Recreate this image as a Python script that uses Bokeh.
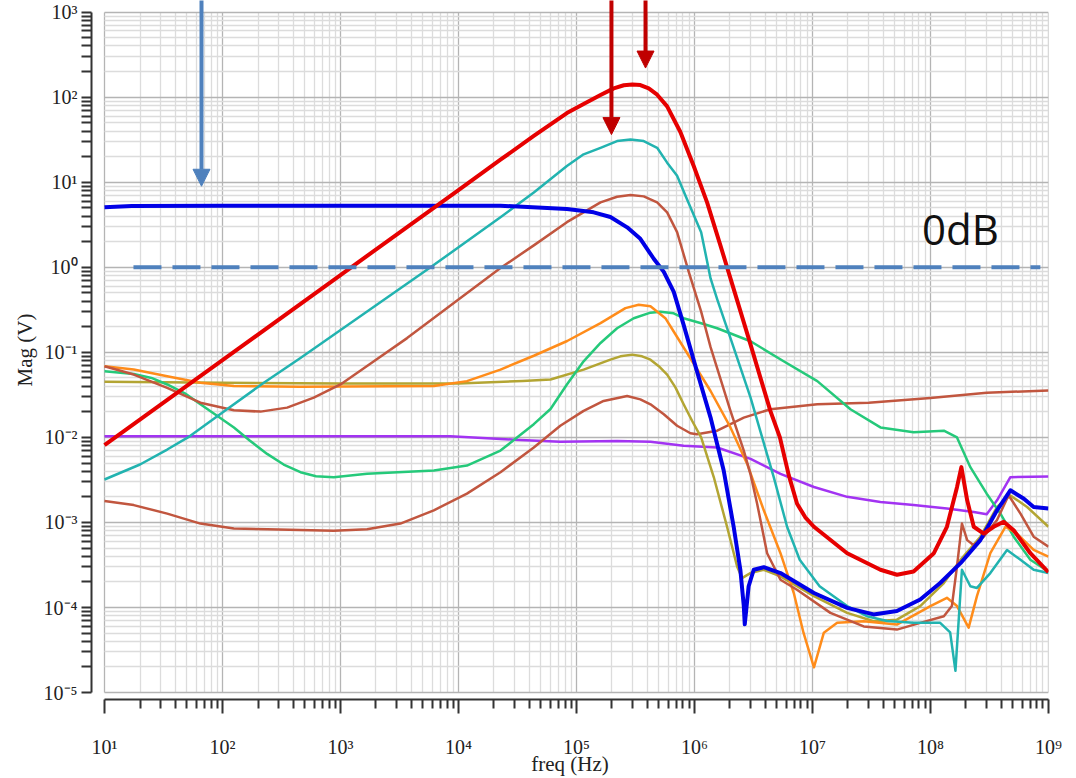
from bokeh.plotting import figure
from bokeh.models import (Range1d, FixedTicker, CustomJSTickFormatter, Arrow,
                          NormalHead, Label)
from bokeh.embed import file_html
from bokeh.resources import INLINE

# ---------------- data ----------------
x_tick_exps = [1, 2, 3, 4, 5, 6, 7, 8, 9]
x_tick_labels = ["10¹", "10²", "10³", "10⁴", "10⁵", "10⁶", "10⁷", "10⁸", "10⁹"]
y_tick_exps = [-5, -4, -3, -2, -1, 0, 1, 2, 3]
y_tick_labels = ["10⁻⁵", "10⁻⁴", "10⁻³", "10⁻²", "10⁻¹", "10⁰", "10¹", "10²", "10³"]
x_title = "freq (Hz)"
y_title = "Mag (V)"

freq_red = [10, 100, 1e3, 1e4, 2.27e4, 4.35e4, 8.3e4, 1.15e5, 1.6e5, 2.07e5, 2.52e5, 2.98e5,
            3.48e5, 4.1e5, 4.83e5, 5.87e5, 7.6e5, 9.86e5, 1.28e6, 1.66e6, 2.02e6, 2.99e6,
            4.4e6, 5.3e6, 6.3e6, 7.41e6, 8.7e6, 1.03e7, 1.97e7, 3.77e7, 5.21e7, 7.2e7,
            1.07e8, 1.38e8, 1.68e8, 1.83e8, 2.05e8, 2.33e8, 2.83e8, 3.44e8, 4.18e8, 5.08e8,
            7.03e8, 1e9]
mag_red = [8.1e-3, 0.081, 0.81, 8.1, 18.4, 35, 65, 83, 106, 127, 138, 141,
           139, 127, 107, 78, 39, 15.5, 5.8, 1.81, 0.74, 0.123,
           0.0205, 0.01, 3.6e-3, 1.66e-3, 1.15e-3, 8.9e-4, 4.35e-4, 2.78e-4, 2.43e-4, 2.65e-4,
           4.35e-4, 8.9e-4, 2.6e-3, 4.47e-3, 1.82e-3, 8.9e-4, 7.4e-4, 8.9e-4, 1.02e-3, 8.1e-4,
           4.35e-4, 2.6e-4]

freq_cyan = [10, 20, 34, 52.7, 100, 224, 458, 5.8e3, 2.27e4, 4.35e4, 8.3e4, 1.15e5, 1.6e5, 2.21e5,
             2.87e5, 3.72e5, 4.83e5, 5.87e5, 7.13e5, 8.65e5, 1.14e6, 1.37e6, 1.56e6, 2.02e6,
             2.99e6, 4.7e6, 6.1e6, 7.8e6, 1.15e7, 1.97e7, 2.9e7, 4.3e7, 7.2e7, 1.21e8, 1.47e8,
             1.63e8, 1.85e8, 2.18e8, 2.48e8, 3.22e8, 4.46e8, 5.8e8, 7.5e8, 1e9]
mag_cyan = [3.2e-3, 4.8e-3, 7.2e-3, 0.0103, 0.0196, 0.0439, 0.0859, 1.0, 3.87, 7.59, 15.5, 21.3,
            25.4, 30.5, 31.8, 30.5, 25.4, 17, 11.9, 6.3, 2.59, 0.74, 0.42, 0.147,
            0.0293, 3.41e-3, 8.9e-4, 3.64e-4, 1.78e-4, 1.04e-4, 7.9e-5, 6.95e-5, 6.6e-5, 6.6e-5,
            5.1e-5, 1.8e-5, 2.78e-4, 1.78e-4, 1.7e-4, 2.54e-4, 4.75e-4, 3.64e-4, 2.78e-4, 2.54e-4]

freq_brown_hi = [10, 17.7, 34, 65, 125, 210, 353, 594, 1e3, 1.92e3, 3.67e3, 2.27e4, 4.35e4,
                 8.3e4, 1.6e5, 2.21e5, 2.87e5, 3.72e5, 4.83e5, 5.87e5, 7.13e5, 8.95e5, 1.14e6,
                 1.37e6, 2.02e6, 2.62e6, 2.98e6, 3.4e6, 4.13e6, 5.36e6, 7.4e6, 1.42e7, 2.72e7,
                 5.2e7, 8.2e7, 1.3e8, 1.52e8, 1.68e8, 1.85e8, 2.05e8, 2.33e8, 2.83e8, 3.67e8,
                 4.6e8, 5.8e8, 7.5e8, 1e9]
mag_brown_hi = [0.0687, 0.0548, 0.0383, 0.0256, 0.0209, 0.0201, 0.0224, 0.0293, 0.0419, 0.0785,
                0.147, 0.98, 1.81, 3.39, 5.8, 6.76, 7.06, 6.82, 5.8, 4.43, 2.59, 0.883, 0.301,
                0.115, 0.0205, 7.0e-3, 3.73e-3, 1.66e-3, 4.35e-4, 2.12e-4, 1.62e-4, 8.65e-5,
                6.0e-5, 5.5e-5, 6.6e-5, 7.9e-5, 1.04e-4, 3.04e-4, 9.7e-4, 6.2e-4, 5.4e-4, 6.8e-4,
                1.07e-3, 2.09e-3, 1.27e-3, 6.8e-4, 5.2e-4]

freq_blue = [10, 17, 100, 1e3, 1e4, 2.27e4, 8.3e4, 1.4e5, 1.94e5, 2.69e5, 3.48e5, 4.52e5,
             5.5e5, 6.68e5, 8.1e5, 1.05e6, 1.37e6, 1.77e6, 2.15e6, 2.45e6, 2.62e6, 2.67e6,
             2.88e6, 3.18e6, 3.87e6, 5.36e6, 1.03e7, 1.97e7, 3.3e7, 5.2e7, 8.2e7, 1.21e8,
             1.8e8, 2.65e8, 3.67e8, 4.76e8, 6.2e8, 7.5e8, 1e9]
mag_blue = [5.08, 5.25, 5.3, 5.3, 5.3, 5.3, 4.84, 4.43, 3.9, 2.95, 2.16, 1.26,
            0.883, 0.515, 0.21, 0.060, 0.0171, 4.08e-3, 8.9e-4, 2.78e-4, 1.04e-4, 6.34e-5,
            1.78e-4, 2.78e-4, 2.98e-4, 2.54e-4, 1.48e-4, 9.9e-5, 8.3e-5, 9.1e-5, 1.24e-4, 1.94e-4,
            3.32e-4, 6.2e-4, 1.39e-3, 2.39e-3, 1.9e-3, 1.52e-3, 1.46e-3]

freq_orange = [10, 17.7, 34, 65, 125, 458, 6.2e3, 1.18e4, 2.27e4, 4.35e4, 8.34e4, 1.6e5, 2.6e5,
               3.37e5, 4.24e5, 5.67e5, 6.67e5, 9.2e5, 1.37e6, 2.02e6, 2.8e6,
               3.87e6, 5.36e6, 6.95e6, 8.4e6, 1.03e7, 1.25e7, 1.62e7, 2.72e7, 5.2e7, 1e8,
               1.38e8, 1.68e8, 2.11e8, 2.48e8, 3.22e8, 4.32e8, 5.4e8, 7.5e8, 1e9]
mag_orange = [0.0687, 0.0627, 0.0525, 0.0439, 0.0401, 0.0394, 0.0401, 0.0459, 0.0627, 0.0912,
              0.136, 0.221, 0.331, 0.363, 0.348, 0.252, 0.176, 0.0859, 0.0351,
              0.0131, 4.88e-3, 1.39e-3, 4.35e-4, 1.48e-4, 5.06e-5, 1.98e-5, 5.06e-5, 6.6e-5,
              6.9e-5, 6.3e-5, 1.04e-4, 1.3e-4, 1.04e-4, 5.8e-5, 1.36e-4, 4.35e-4, 8.9e-4,
              7.4e-4, 4.75e-4, 3.97e-4]

freq_olive = [10, 100, 1e3, 1e4, 3.5e4, 6.03e4, 1.15e5, 1.94e5, 2.36e5, 2.97e5, 3.6e5, 4.24e5,
              4.99e5, 5.87e5, 6.9e5, 8.1e5, 9.55e5, 1.14e6, 1.46e6, 1.89e6, 2.3e6, 2.53e6,
              2.98e6, 3.87e6, 5.36e6, 1.03e7, 1.97e7, 3.3e7, 5.2e7, 8.2e7, 1.3e8, 1.8e8,
              2.65e8, 3.67e8, 4.76e8, 6.6e8, 1e9]
mag_olive = [0.045, 0.044, 0.043, 0.043, 0.046, 0.048, 0.0627, 0.082, 0.0898, 0.094, 0.0898,
             0.082, 0.0687, 0.0548, 0.0387, 0.0245, 0.0157, 0.01, 3.4e-3, 8.9e-4, 3.03e-4,
             2.22e-4, 2.54e-4, 2.78e-4, 2.32e-4, 1.36e-4, 8.65e-5, 6.9e-5, 7.2e-5, 1.04e-4,
             1.94e-4, 3.64e-4, 6.8e-4, 1.52e-3, 2.08e-3, 1.52e-3, 8.9e-4]

freq_green = [10, 17.7, 25, 34, 48, 65, 90, 125, 170, 239, 330, 458, 620, 877, 1.68e3, 6.2e3,
              1.18e4, 2.27e4, 4.35e4, 6.03e4, 8.3e4, 1.15e5, 1.6e5, 2.21e5, 3.06e5, 4.24e5,
              5.15e5, 6.67e5, 8.1e5, 1.14e6, 1.56e6, 2.99e6, 5.7e6, 1.1e7, 2.1e7, 3.77e7, 7.2e7,
              1.3e8, 1.68e8, 2.18e8, 3.0e8, 3.92e8, 5.08e8, 7.03e8, 1e9]
mag_green = [0.060, 0.0558, 0.050, 0.0419, 0.033, 0.0245, 0.018, 0.0131, 9.2e-3, 6.4e-3, 4.8e-3,
             3.9e-3, 3.5e-3, 3.41e-3, 3.73e-3, 4.08e-3, 4.67e-3, 7.0e-3, 0.0143, 0.0216, 0.0419,
             0.0785, 0.129, 0.192, 0.252, 0.293, 0.301, 0.288, 0.252, 0.22, 0.192, 0.135, 0.0785,
             0.0459, 0.0214, 0.0131, 0.0115, 0.012, 0.01, 4.47e-3, 2.18e-3, 1.27e-3, 6.8e-4,
             3.64e-4, 2.65e-4]

freq_purple = [10, 100, 1e3, 8.55e3, 3e4, 7.3e4, 2.21e5, 4.24e5, 8.1e5, 1.56e6, 2.99e6, 5.36e6,
               1.03e7, 1.97e7, 3.77e7, 7.2e7, 1.38e8, 2.33e8, 3.0e8, 3.67e8, 4.76e8, 1e9]
mag_purple = [0.0103, 0.0103, 0.0103, 0.0103, 9.4e-3, 8.9e-3, 9.1e-3, 8.9e-3, 8.0e-3, 7.6e-3,
              5.6e-3, 3.73e-3, 2.61e-3, 2.0e-3, 1.74e-3, 1.6e-3, 1.46e-3, 1.33e-3, 1.25e-3,
              1.82e-3, 3.41e-3, 3.47e-3]

freq_brown_lo = [10, 17.7, 34, 65, 125, 239, 877, 1.68e3, 3.22e3, 6.18e3, 1.18e4, 2.27e4, 4.35e4,
                 7.3e4, 1.15e5, 1.7e5, 2.69e5, 3.48e5, 4.24e5, 5.5e5, 7.13e5, 9.25e5, 1.05e6,
                 1.56e6, 2.62e6, 4.4e6, 1.1e7, 3e7, 1e8, 3e8, 1e9]
mag_brown_lo = [1.79e-3, 1.6e-3, 1.27e-3, 9.7e-4, 8.5e-4, 8.3e-4, 8.0e-4, 8.3e-4, 9.7e-4, 1.39e-3,
                2.18e-3, 3.9e-3, 7.6e-3, 0.0137, 0.0205, 0.0268, 0.0307, 0.028, 0.0245, 0.0187,
                0.0137, 0.0112, 0.0109, 0.012, 0.0171, 0.0214, 0.0245, 0.0256, 0.029, 0.0336,
                0.0355]

# 0 dB reference line
ref_freq = [17.6, 8.55e8]
ref_mag = [1.0, 1.0]

# annotation arrows: frequency, tip magnitude
arrow_freqs = [66.4, 1.98e5, 3.85e5]
arrow_tips = [8.97, 36.3, 220.0]
arrow_colors = ["#4f81bd", "#c00000", "#c00000"]
label_text = "0dB"
label_freq = 8.5e7
label_mag = 2.85

# ---------------- figure ----------------
p = figure(width=1076, height=778, x_axis_type="log", y_axis_type="log",
           x_range=Range1d(7.76, 1.002e9), y_range=Range1d(8.29e-6, 1370),
           output_backend="svg", toolbar_location=None,
           min_border_left=91, min_border_top=0, min_border_right=28, min_border_bottom=74)
p.outline_line_color = None
p.background_fill_color = "white"
p.border_fill_color = "white"

xt = FixedTicker(ticks=[10.0 ** e for e in x_tick_exps],
                 minor_ticks=[m * 10.0 ** e for e in x_tick_exps[:-1] for m in range(2, 10)])
yt = FixedTicker(ticks=[10.0 ** e for e in y_tick_exps],
                 minor_ticks=[m * 10.0 ** e for e in y_tick_exps[:-1] for m in range(2, 10)])
p.xaxis.ticker = xt
p.yaxis.ticker = yt
fmt_code = """
const e = Math.round(Math.log10(tick));
const i = exps.indexOf(e);
return i >= 0 ? labels[i] : "";
"""
p.xaxis.formatter = CustomJSTickFormatter(args=dict(exps=x_tick_exps, labels=x_tick_labels), code=fmt_code)
p.yaxis.formatter = CustomJSTickFormatter(args=dict(exps=y_tick_exps, labels=y_tick_labels), code=fmt_code)
p.xaxis.bounds = (10, 1e9)
p.yaxis.bounds = (1e-5, 1e3)

for ax in (p.xaxis, p.yaxis):
    ax.axis_line_color = "#333333"
    ax.axis_line_width = 2
    ax.major_tick_line_color = "#333333"
    ax.minor_tick_line_color = "#333333"
    ax.major_tick_line_width = 2
    ax.minor_tick_line_width = 2
    ax.major_tick_in = 0
    ax.minor_tick_in = 0
    ax.major_label_text_font = "Liberation Serif"
    ax.major_label_text_font_size = "20px"
    ax.major_label_text_color = "#222222"
    ax.axis_label_text_font = "Liberation Serif"
    ax.axis_label_text_font_size = "21px"
    ax.axis_label_text_font_style = "normal"
    ax.axis_label_text_color = "#222222"

p.xaxis.major_tick_out = 14
p.xaxis.minor_tick_out = 9
p.xaxis.major_label_standoff = 22
p.xaxis.axis_label = x_title
p.xaxis.axis_label_standoff = -9
p.yaxis.major_tick_out = 10
p.yaxis.minor_tick_out = 10
p.yaxis.major_label_standoff = 4
p.yaxis.major_label_text_baseline = "top"
p.yaxis.axis_label = y_title
p.yaxis.axis_label_standoff = 4

for g in (p.xgrid, p.ygrid):
    g.grid_line_color = "#b4b4b4"
    g.grid_line_width = 1.3
    g.minor_grid_line_color = "#dcdcdc"
    g.minor_grid_line_width = 1.3
p.xgrid.bounds = (10, 1e9)
p.ygrid.bounds = (1e-5, 1e3)
if "cross_bounds" in p.xgrid[0].properties():
    p.xgrid.cross_bounds = (1e-5, 1e3)
    p.ygrid.cross_bounds = (10, 1e9)

# ---------------- curves ----------------
curves = [
    (freq_purple, mag_purple, "#a233f2", 2.5),
    (freq_brown_lo, mag_brown_lo, "#c1563f", 2.5),
    (freq_olive, mag_olive, "#b3a533", 2.5),
    (freq_green, mag_green, "#25c97a", 2.5),
    (freq_orange, mag_orange, "#ff8c1a", 2.5),
    (freq_brown_hi, mag_brown_hi, "#c1563f", 2.5),
    (freq_cyan, mag_cyan, "#22b3b0", 2.5),
    (freq_blue, mag_blue, "#0000e6", 4),
    (freq_red, mag_red, "#e60000", 4),
]
for fx, my, col, lw in curves:
    p.line(fx, my, line_color=col, line_width=lw, line_join="round")

p.line(ref_freq, ref_mag, line_color="#4f81bd", line_width=4, line_dash="28 11")

for fa, tip, col in zip(arrow_freqs, arrow_tips, arrow_colors):
    p.add_layout(Arrow(end=NormalHead(size=17, fill_color=col, line_color=col),
                       x_start=fa, y_start=2.0e3, x_end=fa, y_end=tip,
                       line_color=col, line_width=4))

p.add_layout(Label(x=label_freq, y=label_mag, text=label_text, text_font="Open Sans",
                   text_font_size="42px", text_color="#111111", text_baseline="alphabetic"))

open("out.html", "w").write(file_html(p, INLINE))
